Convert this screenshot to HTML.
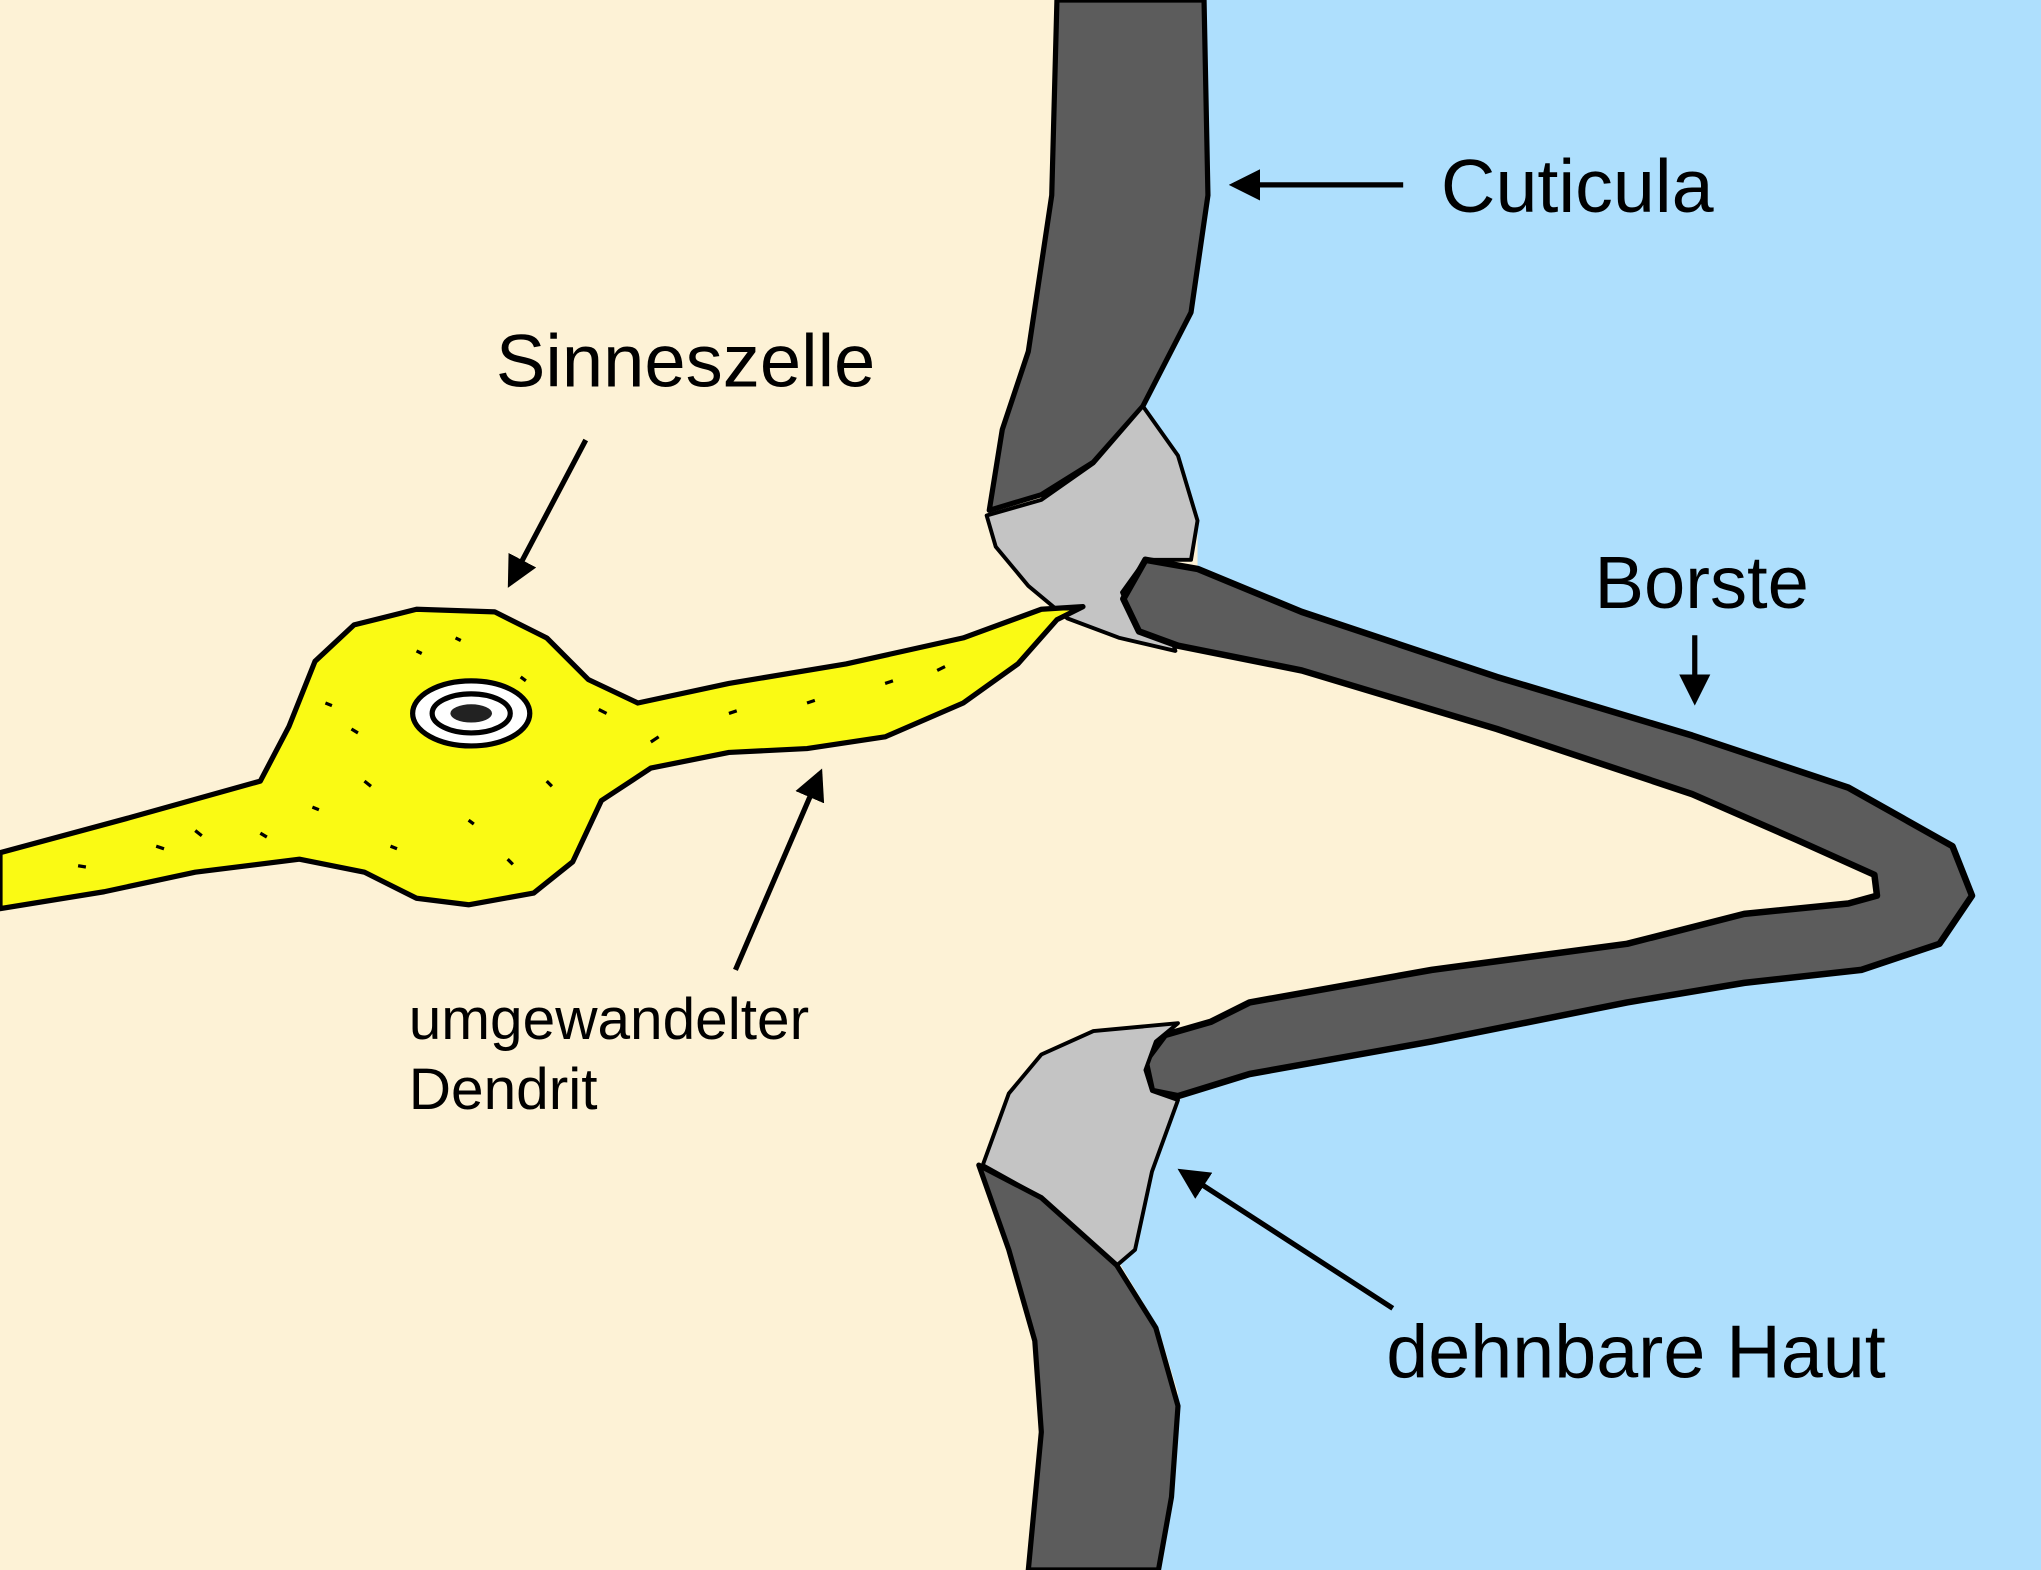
<!DOCTYPE html>
<html><head><meta charset="utf-8"><style>
html,body{margin:0;padding:0;background:#FDF2D6;}
svg{display:block;}
text{font-family:"Liberation Sans",sans-serif;fill:#000;}
</style></head><body>
<svg width="2041" height="1570" viewBox="0 0 1568 1206" preserveAspectRatio="none" xmlns="http://www.w3.org/2000/svg">
<defs>
<marker id="ah" markerWidth="6" markerHeight="6" refX="5" refY="3" orient="auto" markerUnits="strokeWidth">
<path d="M0,0 L6,3 L0,6 Z" fill="#000"/></marker>
</defs>
<rect width="1568" height="1206" fill="#FDF2D6"/>
<path d="M925,0 L1568,0 L1568,1206 L890,1206 L902,1130 L905,1070 L890,1020 L860,970 L872,945 L882,895 L905,845 L960,823 L1100,797 L1250,767 L1340,752 L1430,742 L1490,722 L1515,685 L1500,650 L1420,605 L1300,565 L1150,520 L1000,470 L920,435 L920,400 L905,350 L878,312 L915,240 L928,150 Z" fill="#AEDFFD"/>
<path d="M812,0 L925,0 L928,150 L915,240 L878,312 L840,355 L800,380 L760,392 L770,330 L790,270 L808,150 Z" fill="#5C5C5C" stroke="#000" stroke-width="4" stroke-linejoin="round"/>
<path d="M758,396 L800,384 L840,356 L878,312 L905,350 L920,400 L915,430 L880,430 L862,455 L870,475 L900,490 L903,500 L860,490 L820,475 L790,450 L765,420 Z" fill="#C4C4C4" stroke="#000" stroke-width="3" stroke-linejoin="round"/>
<path d="M880,430 L920,437 L1000,470 L1150,520 L1300,565 L1420,605 L1500,650 L1515,688 L1490,725 L1430,745 L1340,755 L1250,770 L1100,800 L960,825 L905,842 L885,838 L880,815 L895,795 L930,785 L960,770 L1100,745 L1250,725 L1340,702 L1420,694 L1442,688 L1440,672 L1380,645 L1300,610 L1150,560 L1000,515 L905,496 L875,485 L863,460 Z" fill="#5C5C5C" stroke="#000" stroke-width="5" stroke-linejoin="round"/>
<path d="M755,895 L775,840 L800,810 L840,792 L905,786 L888,800 L880,822 L885,838 L905,845 L885,900 L872,960 L858,972 L800,920 Z" fill="#C4C4C4" stroke="#000" stroke-width="3" stroke-linejoin="round"/>
<path d="M752,895 L800,920 L858,972 L888,1020 L905,1080 L900,1150 L890,1206 L790,1206 L800,1100 L795,1030 L775,960 Z" fill="#5C5C5C" stroke="#000" stroke-width="4" stroke-linejoin="round"/>
<path d="M0,655 L100,628 L200,600 L222,558 L242,508 L272,480 L320,468 L380,470 L420,490 L452,522 L490,540 L560,525 L650,510 L740,490 L800,468 L832,466 L812,476 L782,510 L740,540 L680,566 L620,575 L560,578 L500,590 L462,615 L440,662 L410,686 L360,695 L320,690 L280,670 L230,660 L150,670 L80,685 L0,698 Z" fill="#FAFA14" stroke="#000" stroke-width="4" stroke-linejoin="round"/>
<ellipse cx="362" cy="548" rx="45" ry="25" fill="#fff" stroke="#000" stroke-width="4"/>
<ellipse cx="362" cy="548" rx="30" ry="15" fill="none" stroke="#000" stroke-width="4"/>
<ellipse cx="362" cy="548" rx="16" ry="7" fill="#222"/>
<g stroke="#000" stroke-width="2.5">
<line x1="60" y1="665" x2="66" y2="666"/><line x1="120" y1="650" x2="126" y2="652"/><line x1="150" y1="638" x2="155" y2="642"/>
<line x1="250" y1="540" x2="255" y2="542"/><line x1="280" y1="600" x2="285" y2="604"/><line x1="320" y1="500" x2="324" y2="502"/>
<line x1="400" y1="520" x2="404" y2="523"/><line x1="420" y1="600" x2="424" y2="604"/><line x1="360" y1="630" x2="364" y2="633"/>
<line x1="300" y1="650" x2="305" y2="652"/><line x1="390" y1="660" x2="394" y2="664"/><line x1="500" y1="570" x2="506" y2="566"/>
<line x1="560" y1="548" x2="566" y2="546"/><line x1="620" y1="540" x2="626" y2="538"/><line x1="680" y1="525" x2="686" y2="523"/>
<line x1="720" y1="515" x2="726" y2="512"/><line x1="240" y1="620" x2="245" y2="622"/><line x1="200" y1="640" x2="205" y2="643"/>
<line x1="460" y1="545" x2="466" y2="548"/><line x1="350" y1="490" x2="354" y2="492"/><line x1="270" y1="560" x2="275" y2="563"/>
</g>
<g stroke="#000" stroke-width="4" fill="none">
<line x1="1078" y1="142" x2="948" y2="142" marker-end="url(#ah)"/>
<line x1="450" y1="338" x2="392" y2="448" marker-end="url(#ah)"/>
<line x1="565" y1="745" x2="630" y2="594" marker-end="url(#ah)"/>
<line x1="1302" y1="488" x2="1302" y2="538" marker-end="url(#ah)"/>
<line x1="1070" y1="1005" x2="908" y2="900" marker-end="url(#ah)"/>
</g>
<text x="1107" y="163" font-size="58">Cuticula</text>
<text x="381" y="297" font-size="57">Sinneszelle</text>
<text x="1225" y="467" font-size="57">Borste</text>
<text x="314" y="798" font-size="45">umgewandelter</text>
<text x="314" y="852" font-size="45">Dendrit</text>
<text x="1065" y="1058" font-size="58">dehnbare Haut</text>
</svg>
</body></html>
